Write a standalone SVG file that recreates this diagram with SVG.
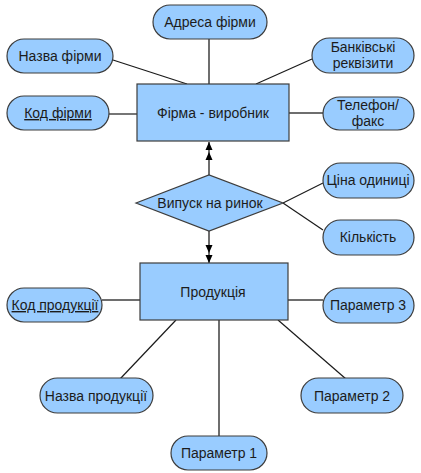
<svg xmlns="http://www.w3.org/2000/svg" width="421" height="473" viewBox="0 0 421 473">
<style>
.n{fill:#99ccff;stroke:#3c3c3c;stroke-width:1.2}
.t{font-family:"Liberation Sans",Arial,sans-serif;font-size:14px;fill:#1c1c1c;text-anchor:middle}
.u{text-decoration:underline}
.g{stroke:#6e6e6e;stroke-width:2;fill:none}
.k{stroke:#1a1a1a;stroke-width:1.2;fill:none}
</style>
<defs>
<marker id="dbl" markerUnits="userSpaceOnUse" viewBox="-22 -5 24 10" refX="0" refY="0" markerWidth="24" markerHeight="10" orient="auto">
<path d="M0,0 L-8,-3.5 L-8,3.5 Z M-10,0 L-18,-3.5 L-18,3.5 Z" fill="#000"/>
</marker>
</defs>
<rect width="421" height="473" fill="#fff"/>
<g id="connectors">
<line class="g" x1="209" y1="39" x2="209" y2="84"/>
<line class="k" x1="113" y1="60" x2="187" y2="84"/>
<line class="k" x1="312" y1="59" x2="256" y2="84"/>
<line class="k" x1="109" y1="114" x2="137" y2="114"/>
<line class="g" x1="289" y1="113" x2="323" y2="113"/>
<line class="g" x1="209" y1="175" x2="209" y2="142" marker-end="url(#dbl)"/>
<line class="g" x1="209" y1="231" x2="209" y2="263" marker-end="url(#dbl)"/>
<line class="k" x1="283" y1="203" x2="323" y2="183"/>
<line class="k" x1="283" y1="203" x2="323" y2="230"/>
<line class="g" x1="102" y1="300" x2="140" y2="300"/>
<line class="g" x1="288" y1="300" x2="323" y2="300"/>
<line class="k" x1="120" y1="379" x2="176" y2="320"/>
<line class="g" x1="219" y1="320" x2="219" y2="436"/>
<line class="k" x1="346" y1="379" x2="278" y2="320"/>
</g>
<g id="adresa"><rect class="n" x="153" y="5" width="114" height="34" rx="17"/><text class="t" x="210" y="27">Адреса фірми</text></g>
<g id="nazva-firmy"><rect class="n" x="7" y="39" width="106" height="34" rx="17"/><text class="t" x="60" y="61">Назва фірми</text></g>
<g id="bank"><rect class="n" x="312" y="38" width="102" height="35" rx="17.5"/><text class="t" x="363" y="52">Банківські</text><text class="t" x="363" y="68">реквізити</text></g>
<g id="kod-firmy"><rect class="n" x="7" y="96" width="102" height="34" rx="17"/><text class="t u" x="58" y="118">Код фірми</text></g>
<g id="firma"><rect class="n" x="137" y="84" width="152" height="57"/><text class="t" x="213" y="118">Фірма - виробник</text></g>
<g id="telefon"><rect class="n" x="323" y="97" width="91" height="33" rx="16.5"/><text class="t" x="368" y="110">Телефон/</text><text class="t" x="368" y="126">факс</text></g>
<g id="vypusk"><polygon class="n" points="136,203 209,175 283,203 209,231"/><text class="t" x="210" y="208">Випуск на ринок</text></g>
<g id="tsina"><rect class="n" x="323" y="163" width="91" height="35" rx="17.5"/><text class="t" x="368" y="185">Ціна одиниці</text></g>
<g id="kilkist"><rect class="n" x="323" y="220" width="91" height="35" rx="17.5"/><text class="t" x="368" y="242">Кількість</text></g>
<g id="produktsiia"><rect class="n" x="140" y="263" width="148" height="57"/><text class="t" x="213" y="297">Продукція</text></g>
<g id="kod-produktsii"><rect class="n" x="7" y="288" width="95" height="34" rx="17"/><text class="t u" x="55" y="310">Код продукції</text></g>
<g id="parametr3"><rect class="n" x="323" y="288" width="91" height="35" rx="17.5"/><text class="t" x="368" y="310">Параметр 3</text></g>
<g id="nazva-produktsii"><rect class="n" x="40" y="378" width="113" height="35" rx="17.5"/><text class="t" x="96" y="401">Назва продукції</text></g>
<g id="parametr2"><rect class="n" x="301" y="378" width="102" height="35" rx="17.5"/><text class="t" x="352" y="401">Параметр 2</text></g>
<g id="parametr1"><rect class="n" x="171" y="436" width="96" height="34" rx="17"/><text class="t" x="219" y="458">Параметр 1</text></g>
</svg>
